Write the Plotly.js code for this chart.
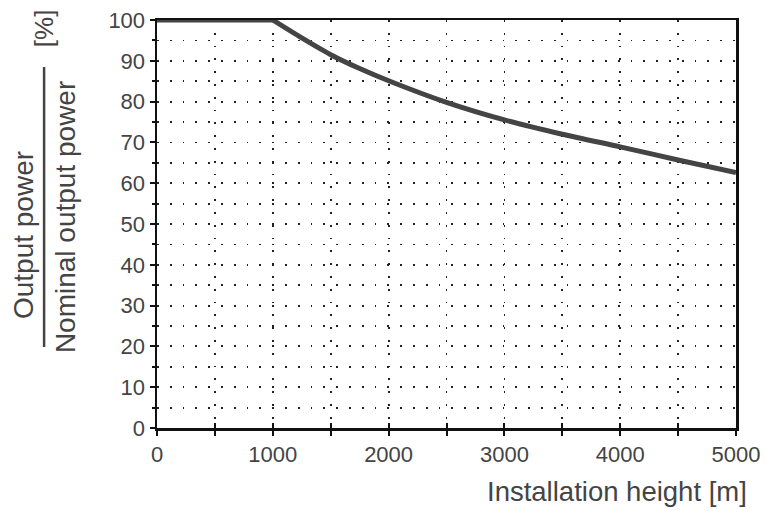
<!DOCTYPE html>
<html>
<head>
<meta charset="utf-8">
<script src="https://cdn.plot.ly/plotly-3.0.1.min.js"></script>
<style>html,body{margin:0;padding:0;background:#fff;}#chart{width:765px;height:511px;}</style>
</head>
<body>
<div id="chart"></div>
<script>
var heights = [0, 1000, 1250, 1500, 1750, 2000, 2500, 3000, 3500, 4000, 4500, 5000];
var powerPct = [100, 100, 95.6, 91.5, 88.1, 85.1, 79.8, 75.5, 72.0, 68.9, 65.7, 62.6];
var xTickVals = [0, 500, 1000, 1500, 2000, 2500, 3000, 3500, 4000, 4500, 5000];
var xTickText = ['0', '', '1000', '', '2000', '', '3000', '', '4000', '', '5000'];
var yTickVals = [0, 10, 20, 30, 40, 50, 60, 70, 80, 90, 100];
var xTitle = 'Installation height [m]';
var yTitleTop = 'Output power';
var yTitleBottom = 'Nominal output power';
var yUnit = '[%]';

var font = 'Liberation Sans, Arial, Helvetica, sans-serif';
var textColor = '#444';

var traces = [
  {x: heights.slice(0, 2), y: powerPct.slice(0, 2), mode: 'lines', type: 'scatter',
   line: {color: '#444', width: 5}, hoverinfo: 'skip', showlegend: false},
  {x: heights.slice(1), y: powerPct.slice(1), mode: 'lines', type: 'scatter',
   line: {color: '#444', width: 5, shape: 'spline', smoothing: 0.8}, hoverinfo: 'skip', showlegend: false},
  {x: [], y: [], xaxis: 'x2', type: 'scatter', mode: 'lines', showlegend: false, hoverinfo: 'skip'}
];

var layout = {
  width: 765, height: 511,
  margin: {l: 157, r: 29, t: 20, b: 83},
  paper_bgcolor: '#fff', plot_bgcolor: '#fff',
  font: {family: font, size: 22, color: textColor},
  showlegend: false,
  xaxis: {
    range: [0, 5000], tickvals: xTickVals, ticktext: xTickText,
    ticks: 'outside', ticklen: 5, tickwidth: 2, tickcolor: '#111',
    showline: true, linecolor: '#111', linewidth: 2.5, mirror: true,
    showgrid: true, gridcolor: '#222', gridwidth: 1.8, griddash: '1.8px,11px',
    zeroline: false, tickfont: {size: 22, color: textColor, family: font},
    fixedrange: true
  },
  xaxis2: {
    overlaying: 'x', range: [0, 5000], tickvals: xTickVals,
    ticks: 'inside', ticklen: 5, tickwidth: 2, tickcolor: '#111',
    showticklabels: false, showgrid: false, zeroline: false, showline: false,
    side: 'bottom', anchor: 'y', fixedrange: true
  },
  yaxis: {
    range: [0, 100], tickvals: yTickVals,
    ticks: 'outside', ticklen: 5, tickwidth: 2, tickcolor: '#111',
    showline: true, linecolor: '#111', linewidth: 2.5, mirror: true,
    showgrid: false, zeroline: false,
    minor: {dtick: 5, tick0: 0, ticks: 'outside', ticklen: 3, tickwidth: 2, tickcolor: '#111',
            showgrid: true, gridcolor: '#222', gridwidth: 1.8, griddash: '1.8px,11px'},
    tickfont: {size: 22, color: textColor, family: font},
    fixedrange: true
  },
  annotations: [
    {text: xTitle, xref: 'paper', yref: 'paper', x: 1.022, y: -0.155,
     xanchor: 'right', yanchor: 'middle', showarrow: false,
     font: {size: 27.5, color: textColor, family: font}},
    {text: yTitleTop, xref: 'paper', yref: 'paper', x: -0.2314, y: 0.473,
     xanchor: 'center', yanchor: 'middle', textangle: -90, showarrow: false,
     font: {size: 28, color: textColor, family: font}},
    {text: yTitleBottom, xref: 'paper', yref: 'paper', x: -0.1588, y: 0.517,
     xanchor: 'center', yanchor: 'middle', textangle: -90, showarrow: false,
     font: {size: 28, color: textColor, family: font}},
    {text: yUnit, xref: 'paper', yref: 'paper', x: -0.1952, y: 0.980,
     xanchor: 'center', yanchor: 'middle', textangle: -90, showarrow: false,
     font: {size: 26, color: textColor, family: font}}
  ],
  shapes: [
    {type: 'line', xref: 'paper', yref: 'paper', x0: -0.195, x1: -0.195, y0: 0.1985, y1: 0.885,
     line: {color: textColor, width: 2.5}}
  ]
};

Plotly.newPlot('chart', traces, layout, {displayModeBar: false, staticPlot: true});
</script>
</body>
</html>
